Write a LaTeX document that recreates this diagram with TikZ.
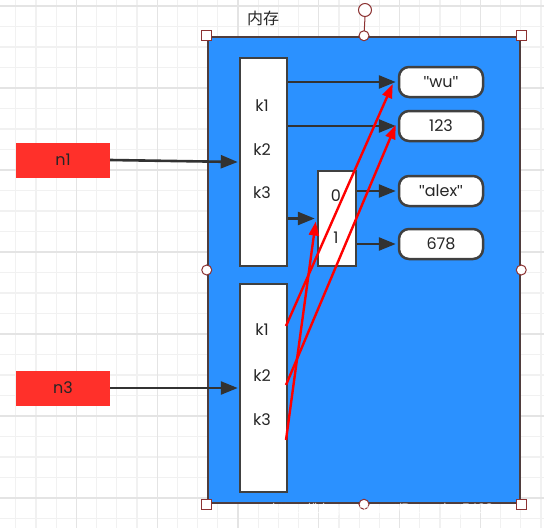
\documentclass[tikz,border=0pt]{standalone}
\usepackage{fontspec}
\setmainfont{Poppins}
\newfontfamily\cjk{Noto Sans CJK SC}
\newfontfamily\markfont{Liberation Sans}
\newcommand{\dq}{{\markfont"}}
\usetikzlibrary{arrows.meta, positioning}
\definecolor{memblue}{RGB}{43,145,255}
\definecolor{namered}{RGB}{255,48,42}
\definecolor{edgegray}{RGB}{64,64,64}
\definecolor{arrowgray}{RGB}{50,50,50}
\definecolor{gridminor}{RGB}{241,241,241}
\definecolor{gridmajor}{RGB}{228,228,228}
\definecolor{handlered}{RGB}{140,50,50}

\tikzset{
  txt/.style={font=\fontsize{16}{19}\selectfont, text=black!85},
  cell/.style={draw=edgegray, line width=2.5pt, fill=white, inner sep=0pt},
  dictbox/.style={cell, minimum width=47pt, minimum height=208pt},
  valbox/.style={cell, txt, rounded corners=10pt, minimum width=84pt, minimum height=30pt},
  namebox/.style={fill=namered, txt, minimum width=94pt, minimum height=35pt, inner sep=0pt},
  ptr/.style={-{Triangle[length=17pt,width=13pt]}, line width=2.6pt, draw=arrowgray, fill=arrowgray},
  refline/.style={-{Triangle[length=14pt,width=10pt]}, line width=2.4pt, draw=red, fill=red},
  sqhandle/.style={draw=handlered, fill=white, line width=1pt, minimum size=10pt, inner sep=0pt},
  cirhandle/.style={draw=handlered, fill=white, line width=1pt, circle, minimum size=10pt, inner sep=0pt},
}

\begin{document}
\begin{tikzpicture}[x=1pt, y=-1pt]
    \useasboundingbox (0,0) rectangle (544,528);

    % grid of the editor
    \begin{scope}
        \clip (0,0) rectangle (544,528);
        \foreach \i in {0,...,26} {
            \pgfmathsetmacro{\gx}{15.7+20.2*\i}
            \pgfmathsetmacro{\gy}{6+20.5*\i}
            \draw[gridminor, line width=1.2pt] (\gx,0) -- (\gx,528);
            \draw[gridminor, line width=1.2pt] (0,\gy) -- (544,\gy);
        }
        \foreach \i in {0,...,6} {
            \pgfmathsetmacro{\gx}{-4.5+80.8*\i}
            \pgfmathsetmacro{\gy}{6+82*\i}
            \draw[gridmajor, line width=1.2pt] (\gx,0) -- (\gx,528);
            \draw[gridmajor, line width=1.2pt] (0,\gy) -- (544,\gy);
        }
    \end{scope}

    % memory
    \node[draw=edgegray!80!handlered, line width=2.5pt, fill=memblue,
          minimum width=312pt, minimum height=466pt, inner sep=0pt] (mem) at (364,270) {};
    \node[txt, font=\cjk\fontsize{16}{18}\selectfont, anchor=center] (memlabel) at (263,18) {内存};

    % dicts
    \node[dictbox] (dictA) at (263.5,162) {};
    \node[dictbox] (dictB) at (263.5,388) {};
    \node[txt] (ka1) at (262,106) {k1};
    \node[txt] (ka2) at (262,150) {k2};
    \node[txt] (ka3) at (262,193) {k3};
    \node[txt] (kb1) at (262,330) {k1};
    \node[txt] (kb2) at (262,376) {k2};
    \node[txt] (kb3) at (262,420) {k3};

    % list
    \node[cell, minimum width=38pt, minimum height=95pt] (lst) at (337,218.5) {};
    \node[txt] (idx0) at (336,196) {0};
    \node[txt] (idx1) at (336,238) {1};

    % values
    \node[valbox] (vwu) at (441,82) {\dq wu\dq};
    \node[valbox] (v123) at (441,126) {123};
    \node[valbox] (valex) at (441,191) {\dq alex\dq};
    \node[valbox] (v678) at (441,244) {678};

    % names
    \node[namebox] (n1) at (63,160) {n1};
    \node[namebox] (n3) at (63,388) {n3};

    % arrows
    \draw[ptr] (n1.east) -- ([xshift=-1pt]dictA.west);
    \draw[ptr] (n3.east) -- ([xshift=-1pt]dictB.west);
    \draw[ptr] (dictA.east |- vwu.west) -- ([xshift=-2pt]vwu.west);
    \draw[ptr] (dictA.east |- v123.west) -- ([xshift=-2pt]v123.west);
    \draw[ptr] (dictA.east |- lst.west) -- ([xshift=-2pt]lst.west);
    \draw[ptr] (lst.east |- valex.west) -- ([xshift=-2pt]valex.west);
    \draw[ptr] (lst.east |- v678.west) -- ([xshift=-2pt]v678.west);

    % references of n3
    \coordinate (rb1) at (286,326);
    \coordinate (rb2) at (286,385);
    \coordinate (rb3) at (286,440);
    \draw[refline] (rb1) -- ([xshift=-5pt,yshift=-2pt]vwu.west);
    \draw[refline] (rb2) -- ([xshift=-2pt,yshift=1pt]v123.west);
    \draw[refline] (rb3) -- ([xshift=-1pt,yshift=-3pt]lst.west);

    % selection handles
    \node[cirhandle, minimum size=13pt] (rot) at (365,10) {};
    \draw[handlered, line width=1pt] (rot.south) -- (mem.north);
    \node[sqhandle] (hnw) at (mem.north west) {};
    \node[sqhandle] (hne) at (mem.north east) {};
    \node[sqhandle] (hsw) at (mem.south west) {};
    \node[sqhandle] (hse) at (mem.south east) {};
    \node[cirhandle] (hn) at (mem.north) {};
    \node[cirhandle] (hs) at (mem.south) {};
    \node[cirhandle] (hw) at (mem.west) {};
    \node[cirhandle] (he) at (mem.east) {};

    % watermark
    \node[font=\markfont\fontsize{14}{16}\selectfont, text=white, text opacity=0.7,
          anchor=west, inner sep=0pt] (wmark) at (272,510) {https://blog.csdn.net/Dreaming5498};
\end{tikzpicture}
\end{document}
